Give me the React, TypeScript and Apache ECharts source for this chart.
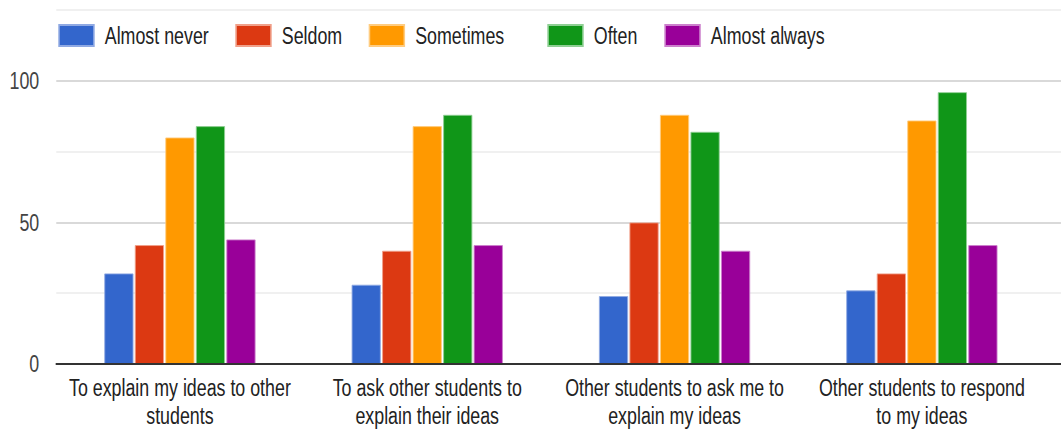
import React, { useEffect, useRef } from 'react';
import * as echarts from 'echarts';

// Survey categories (two-line axis labels)
const categories = [
  'To explain my ideas to other\nstudents',
  'To ask other students to\nexplain their ideas',
  'Other students to ask me to\nexplain my ideas',
  'Other students to respond\nto my ideas',
];

const seriesNames = ['Almost never', 'Seldom', 'Sometimes', 'Often', 'Almost always'];

const almostNever = [32, 28, 24, 26];
const seldom = [42, 40, 50, 32];
const sometimes = [80, 84, 88, 86];
const often = [84, 88, 82, 96];
const almostAlways = [44, 42, 40, 42];

const yTickLabels = [0, 50, 100];

const seriesValues = [almostNever, seldom, sometimes, often, almostAlways];

const colors = ['#3366cc', '#dc3912', '#ff9900', '#109618', '#990099'];
const borderColors = ['#8fa9e3', '#f0a08a', '#ffcc80', '#8fcf94', '#cc80cc'];

// The chart is laid out on a wider canvas and squeezed horizontally.
const PAGE_W = 1061;
const PAGE_H = 430;
const SX = 0.775;
const W = PAGE_W / SX;

const FONT = 'Liberation Sans, Arial, Helvetica, sans-serif';

const PLOT_LEFT = 72.6;
const PLOT_WIDTH = 1276.5;
const PLOT_TOP = 10;
const PLOT_BOTTOM = 66;

const legendLefts = [75.2, 303.6, 475.7, 706.2, 857.2];

export default function App() {
  const ref = useRef<HTMLDivElement>(null);

  useEffect(() => {
    if (!ref.current) return;
    const chart = echarts.init(ref.current, undefined, { renderer: 'svg' });

    const option: any = {
      animation: false,
      backgroundColor: '#ffffff',
      textStyle: { fontFamily: FONT },
      legend: seriesNames.map((name, i) => ({
        data: [name],
        left: legendLefts[i],
        top: 24,
        padding: 0,
        itemWidth: 45,
        itemHeight: 21,
        icon: 'rect',
        selectedMode: false,
        textStyle: {
          fontFamily: FONT,
          fontSize: 23,
          color: '#222222',
          lineHeight: 21,
          padding: [0, 0, 0, 9],
        },
      })),
      grid: [
        {
          left: PLOT_LEFT,
          right: W - PLOT_LEFT - PLOT_WIDTH,
          top: PLOT_TOP,
          bottom: PLOT_BOTTOM,
          containLabel: false,
          outerBoundsMode: 'none',
        },
        {
          left: PLOT_LEFT,
          right: 0,
          top: PLOT_TOP,
          bottom: PLOT_BOTTOM,
          containLabel: false,
          outerBoundsMode: 'none',
        },
      ],
      xAxis: [
        {
          type: 'category',
          gridIndex: 0,
          data: categories,
          axisLine: { show: false },
          axisTick: { show: false },
          axisLabel: {
            interval: 0,
            fontFamily: FONT,
            fontSize: 23,
            lineHeight: 28,
            color: '#222222',
            margin: 10,
          },
        },
        {
          type: 'category',
          gridIndex: 1,
          data: [''],
          z: 10,
          axisLine: { show: true, lineStyle: { color: '#333333', width: 2 } },
          axisTick: { show: false },
          axisLabel: { show: false },
        },
      ],
      yAxis: [
        {
          type: 'value',
          gridIndex: 0,
          min: 0,
          max: 125,
          interval: 25,
          axisLine: { show: false },
          axisTick: { show: false },
          splitLine: { show: false },
          axisLabel: {
            fontFamily: FONT,
            fontSize: 23,
            color: '#444444',
            margin: 22,
            padding: [5, 0, 0, 0],
            formatter: (v: number) => (yTickLabels.includes(v) ? String(v) : ''),
          },
        },
        {
          type: 'value',
          gridIndex: 1,
          min: 0,
          max: 125,
          interval: 25,
          axisLine: { show: false },
          axisTick: { show: false },
          axisLabel: { show: false },
          splitLine: {
            show: true,
            lineStyle: { color: ['#cccccc', '#ebebeb'], width: 1.5 },
          },
        },
      ],
      series: seriesNames.map((name, i) => ({
        name,
        type: 'bar',
        xAxisIndex: 0,
        yAxisIndex: 0,
        data: seriesValues[i],
        barWidth: 37.5,
        barGap: '5%',
        itemStyle: {
          color: colors[i],
          borderColor: borderColors[i],
          borderWidth: 1,
        },
      })),
    };

    chart.setOption(option);
    return () => chart.dispose();
  }, []);

  return (
    <div
      style={{
        position: 'fixed',
        left: 0,
        top: 0,
        width: PAGE_W,
        height: PAGE_H,
        overflow: 'hidden',
        background: '#ffffff',
      }}
    >
      <div
        ref={ref}
        style={{
          width: W,
          height: PAGE_H,
          transform: `scaleX(${SX})`,
          transformOrigin: '0 0',
        }}
      />
    </div>
  );
}
